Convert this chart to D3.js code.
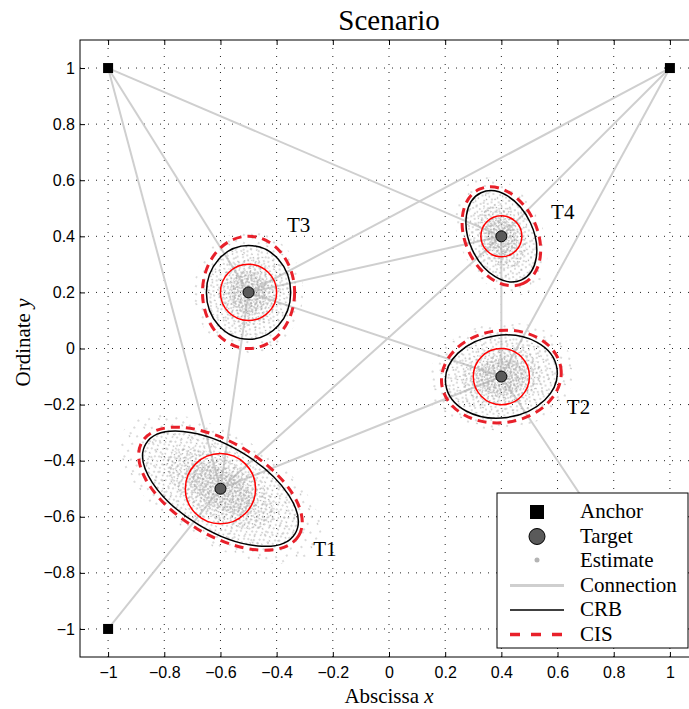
<!DOCTYPE html>
<html>
<head>
<meta charset="utf-8">
<script src="https://cdn.jsdelivr.net/npm/d3@7"></script>
<style>
  body { margin: 0; background: #fff; }
  svg { display: block; }
  .tick text { font-family: "Liberation Sans", Arial, sans-serif; font-size: 16px; fill: #000; }
  .serif { font-family: "Liberation Serif", "DejaVu Serif", serif; fill: #000; }
</style>
</head>
<body>
<div id="chart"></div>
<script>
// anchors (black squares)
var anchors = [[-1, 1], [1, 1], [-1, -1], [1, -1]];

// targets
var targetNames = ["T1", "T2", "T3", "T4"];
var targetX = [-0.6, 0.4, -0.5, 0.4];
var targetY = [-0.5, -0.1, 0.2, 0.4];

// where the name of each target is written
var labelX = [-0.27, 0.633, -0.363, 0.577];
var labelY = [-0.74, -0.233, 0.415, 0.46];

// connections: [from, to], "A" = anchor index, "T" = target index
var connections = [
    ["A0", "T0"], ["A0", "T2"], ["A0", "T3"],
    ["A1", "T1"], ["A1", "T2"], ["A1", "T3"],
    ["A2", "T0"], ["A3", "T1"],
    ["T0", "T1"], ["T0", "T2"], ["T0", "T3"],
    ["T2", "T3"], ["T2", "T1"], ["T1", "T3"]
];

// CRB ellipses: semi axes and rotation (degrees) in data units
var crbA = [0.31, 0.2, 0.15, 0.171];
var crbB = [0.15, 0.147, 0.167, 0.114];
var crbAngle = [-31, 8, 0, -65];

// CIS ellipses
var cisA = [0.325, 0.214, 0.164, 0.185];
var cisB = [0.165, 0.164, 0.2, 0.128];
var cisAngle = [-31, 8, 0, -65];

// red circles
var circleR = [0.125, 0.1, 0.1, 0.073];

var ticks = [-1, -0.8, -0.6, -0.4, -0.2, 0, 0.2, 0.4, 0.6, 0.8, 1];

var legendItems = ["Anchor", "Target", "Estimate", "Connection", "CRB", "CIS"];

function drawScenario() {
    var w = 689, h = 709;
    var margin = { top: 40, right: -9, bottom: 52, left: 80 };

    var svg = d3.select("#chart").append("svg")
        .attr("width", w)
        .attr("height", h);

    var x = d3.scaleLinear().domain([-1.1, 1.1]).range([margin.left, w - margin.right]);
    var y = d3.scaleLinear().domain([-1.1, 1.1]).range([h - margin.bottom, margin.top]);
    var unit = x(1) - x(0);

    var defs = svg.append("defs");

    // dot texture for the estimate clouds
    var tiles = [
        { id: "dots0", size: 17, rot: 29, dots: [[2, 3], [11, 1.5], [6, 10], [15, 12], [9, 16]] },
        { id: "dots1", size: 11, rot: 17, dots: [[1, 2], [6.5, 1], [3, 6.5], [9, 5], [5.5, 9.5], [10, 9]] },
        { id: "dots2", size: 8, rot: 52, dots: [[0.5, 1.5], [5, 0.8], [2.5, 5], [6.8, 4.6], [4.4, 7.2]] },
        { id: "dots3", size: 6, rot: 83, dots: [[1, 1], [4, 2], [2, 4.4], [5, 5]] }
    ];
    tiles.forEach(function (t) {
        var p = defs.append("pattern")
            .attr("id", t.id)
            .attr("patternUnits", "userSpaceOnUse")
            .attr("width", t.size)
            .attr("height", t.size)
            .attr("patternTransform", "rotate(" + t.rot + ")");
        p.selectAll("circle").data(t.dots).enter().append("circle")
            .attr("cx", d => d[0]).attr("cy", d => d[1]).attr("r", 0.8)
            .attr("fill", "#acacac");
    });

    // --- grid ---
    var grid = svg.append("g");
    grid.selectAll(".gx").data(ticks).enter().append("line")
        .attr("x1", d => x(d)).attr("x2", d => x(d))
        .attr("y1", y(1.1)).attr("y2", y(-1.1));
    grid.selectAll(".gy").data(ticks).enter().append("line")
        .attr("y1", d => y(d)).attr("y2", d => y(d))
        .attr("x1", x(-1.1)).attr("x2", x(1.1));
    grid.selectAll("line")
        .attr("stroke", "#222")
        .attr("stroke-width", 1)
        .attr("stroke-dasharray", "1,7");

    // --- connections ---
    function pos(key) {
        var i = +key.slice(1);
        return key[0] === "A" ? [anchors[i][0], anchors[i][1]] : [targetX[i], targetY[i]];
    }
    svg.append("g").selectAll("line").data(connections).enter().append("line")
        .attr("x1", d => x(pos(d[0])[0])).attr("y1", d => y(pos(d[0])[1]))
        .attr("x2", d => x(pos(d[1])[0])).attr("y2", d => y(pos(d[1])[1]))
        .attr("stroke", "#cfcfcf")
        .attr("stroke-width", 2);

    // --- estimate clouds (textured, denser towards the centre) ---
    var clouds = svg.append("g");
    [[1.3, "dots0"], [1.0, "dots1"], [0.7, "dots2"], [0.45, "dots3"], [0.4, "dots1"]].forEach(function (layer) {
        clouds.selectAll(null).data(targetNames).enter().append("ellipse")
            .attr("transform", (d, i) => `translate(${x(targetX[i])},${y(targetY[i])}) rotate(${-crbAngle[i]})`)
            .attr("rx", (d, i) => crbA[i] * unit * layer[0])
            .attr("ry", (d, i) => crbB[i] * unit * layer[0])
            .attr("fill", "url(#" + layer[1] + ")");
    });

    // --- CRB ---
    svg.append("g").selectAll("ellipse").data(targetNames).enter().append("ellipse")
        .attr("transform", (d, i) => `translate(${x(targetX[i])},${y(targetY[i])}) rotate(${-crbAngle[i]})`)
        .attr("rx", (d, i) => crbA[i] * unit)
        .attr("ry", (d, i) => crbB[i] * unit)
        .attr("fill", "none")
        .attr("stroke", "#000")
        .attr("stroke-width", 1.5);

    // --- CIS ---
    svg.append("g").selectAll("ellipse").data(targetNames).enter().append("ellipse")
        .attr("transform", (d, i) => `translate(${x(targetX[i])},${y(targetY[i])}) rotate(${-cisAngle[i]})`)
        .attr("rx", (d, i) => cisA[i] * unit)
        .attr("ry", (d, i) => cisB[i] * unit)
        .attr("fill", "none")
        .attr("stroke", "#e8202a")
        .attr("stroke-width", 3)
        .attr("stroke-dasharray", "9,6");

    // --- red circles ---
    svg.append("g").selectAll("circle").data(targetNames).enter().append("circle")
        .attr("cx", (d, i) => x(targetX[i]))
        .attr("cy", (d, i) => y(targetY[i]))
        .attr("r", (d, i) => circleR[i] * unit)
        .attr("fill", "none")
        .attr("stroke", "#ff0000")
        .attr("stroke-width", 1.5);

    // --- anchors ---
    svg.append("g").selectAll("rect").data(anchors).enter().append("rect")
        .attr("x", d => x(d[0]) - 5).attr("y", d => y(d[1]) - 5)
        .attr("width", 10).attr("height", 10)
        .attr("fill", "#000");

    // --- targets ---
    svg.append("g").selectAll("circle").data(targetNames).enter().append("circle")
        .attr("cx", (d, i) => x(targetX[i]))
        .attr("cy", (d, i) => y(targetY[i]))
        .attr("r", 5.5)
        .attr("fill", "#5a5a5a")
        .attr("stroke", "#000")
        .attr("stroke-width", 1);

    svg.append("g").selectAll("text").data(targetNames).enter().append("text")
        .attr("class", "serif")
        .attr("x", (d, i) => x(labelX[i]))
        .attr("y", (d, i) => y(labelY[i]))
        .style("font-size", "21px")
        .text(d => d);

    // --- axes ---
    var fmt = d3.format("");
    svg.append("g")
        .attr("transform", `translate(0,${y(-1.1)})`)
        .call(d3.axisBottom(x).tickValues(ticks).tickFormat(fmt).tickSize(-5).tickPadding(10))
        .call(g => g.select(".domain").remove());
    svg.append("g")
        .attr("transform", `translate(0,${y(1.1)})`)
        .call(d3.axisTop(x).tickValues(ticks).tickFormat("").tickSize(-5))
        .call(g => g.select(".domain").remove());
    svg.append("g")
        .attr("transform", `translate(${x(-1.1)},0)`)
        .call(d3.axisLeft(y).tickValues(ticks).tickFormat(fmt).tickSize(-5).tickPadding(5))
        .call(g => g.select(".domain").remove());
    svg.selectAll(".tick line").attr("stroke", "#000");

    svg.append("rect")
        .attr("x", x(-1.1)).attr("y", y(1.1))
        .attr("width", x(1.1) - x(-1.1)).attr("height", y(-1.1) - y(1.1))
        .attr("fill", "none").attr("stroke", "#000").attr("stroke-width", 1);

    // --- titles ---
    svg.append("text").attr("class", "serif")
        .attr("x", (x(-1.1) + x(1.1)) / 2).attr("y", 30)
        .attr("text-anchor", "middle").style("font-size", "29px")
        .text("Scenario");

    var xl = svg.append("text").attr("class", "serif")
        .attr("x", (x(-1.1) + x(1.1)) / 2).attr("y", 703)
        .attr("text-anchor", "middle").style("font-size", "21px");
    xl.append("tspan").text("Abscissa ");
    xl.append("tspan").style("font-style", "italic").text("x");

    var yl = svg.append("text").attr("class", "serif")
        .attr("transform", `translate(30,${y(0) - 6}) rotate(-90)`)
        .attr("text-anchor", "middle").style("font-size", "21px");
    yl.append("tspan").text("Ordinate ");
    yl.append("tspan").style("font-style", "italic").text("y");

    // --- legend ---
    var legend = svg.append("g").attr("transform", "translate(497,493)");
    legend.append("rect")
        .attr("width", 191).attr("height", 155)
        .attr("fill", "#fff").attr("stroke", "#000").attr("stroke-width", 1);

    var rows = legend.selectAll(".legend-item").data(legendItems).enter().append("g")
        .attr("transform", (d, i) => `translate(0,${19 + i * 24.5})`);

    rows.append("text").attr("class", "serif")
        .attr("x", 83).attr("y", 6)
        .style("font-size", "21px")
        .text(d => d);

    rows.filter(d => d === "Anchor").append("rect")
        .attr("x", 33).attr("y", -7).attr("width", 14).attr("height", 14).attr("fill", "#000");
    rows.filter(d => d === "Target").append("circle")
        .attr("cx", 40).attr("cy", 0).attr("r", 8)
        .attr("fill", "#5a5a5a").attr("stroke", "#000");
    rows.filter(d => d === "Estimate").append("circle")
        .attr("cx", 40).attr("cy", -1).attr("r", 2.5).attr("fill", "#b4b4b4");
    rows.filter(d => d === "Connection").append("line")
        .attr("x1", 13).attr("x2", 67).attr("stroke", "#cfcfcf").attr("stroke-width", 3);
    rows.filter(d => d === "CRB").append("line")
        .attr("x1", 13).attr("x2", 67).attr("stroke", "#000").attr("stroke-width", 1.5);
    rows.filter(d => d === "CIS").append("line")
        .attr("x1", 13).attr("x2", 67).attr("stroke", "#e8202a").attr("stroke-width", 3.5)
        .attr("stroke-dasharray", "10,11");
}

drawScenario();
</script>
</body>
</html>
